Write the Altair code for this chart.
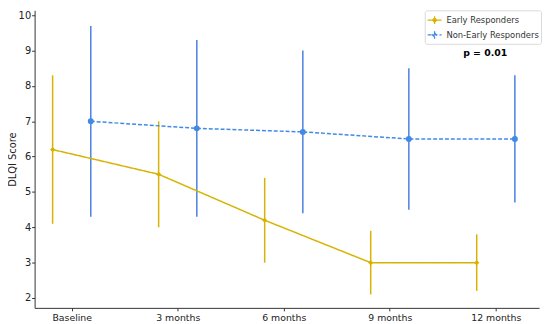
import altair as alt
import pandas as pd

timepoints = ["Baseline", "3 months", "6 months", "9 months", "12 months"]
groups = ["Early Responders", "Non-Early Responders"]
early_mean = [6.2, 5.5, 4.2, 3.0, 3.0]
early_low = [4.1, 4.0, 3.0, 2.1, 2.2]
early_high = [8.3, 7.0, 5.4, 3.9, 3.8]
non_mean = [7.0, 6.8, 6.7, 6.5, 6.5]
non_low = [4.3, 4.3, 4.4, 4.5, 4.7]
non_high = [9.7, 9.3, 9.0, 8.5, 8.3]
offsets = [-0.18, 0.18]
p_label = ["p = 0.01"]
p_x = [3.9]
p_y = [8.93]

gold = "#d8b200"
blue = "#3f8ae6"
blue_err = "#4a7fe0"

rows = []
for g, m, lo, hi, off in [(groups[0], early_mean, early_low, early_high, offsets[0]),
                          (groups[1], non_mean, non_low, non_high, offsets[1])]:
    for i, t in enumerate(timepoints):
        rows.append({"group": g, "time": t, "x": i + off, "mean": m[i], "low": lo[i], "high": hi[i]})
df = pd.DataFrame(rows)

label_expr = "[" + ",".join(f"'{t}'" for t in timepoints) + "][datum.value]"

xscale = alt.Scale(domain=[-0.35, 4.408], nice=False, zero=False)
yscale = alt.Scale(domain=[1.72, 10.14], nice=False, zero=False)
color_scale = alt.Scale(domain=groups, range=[gold, blue])

x_axis = alt.Axis(values=[0, 1, 2, 3, 4], labelExpr=label_expr, title=None,
                  grid=False, tickSize=3, labelPadding=2, labelFontSize=9.5)
y_axis = alt.Axis(values=[2, 3, 4, 5, 6, 7, 8, 9, 10], title="DLQI Score", grid=False,
                  tickSize=3, labelPadding=1, titlePadding=1, labelOverlap=False,
                  labelFontSize=10, titleFontSize=10)


def X(field):
    return alt.X(field, scale=xscale, axis=x_axis)


def Y(field):
    return alt.Y(field, scale=yscale, axis=y_axis)


legend_symbol = "M-1,0H1M0,-0.3L0.3,0L0,0.3L-0.3,0ZM0,-0.55V0.55"

lines = alt.Chart(df).mark_line(strokeWidth=1.5).encode(
    x=X("x:Q"), y=Y("mean:Q"),
    color=alt.Color("group:N", scale=color_scale, title=None,
                    legend=alt.Legend(orient="none", legendX=396, legendY=0,
                                      fillColor="white", strokeColor="#d9d9d9",
                                      padding=2, cornerRadius=2, labelFontSize=8.5,
                                      symbolType=legend_symbol, symbolSize=200,
                                      symbolStrokeWidth=1.3, rowPadding=0,
                                      labelColor="#333", labelOffset=4)),
    strokeDash=alt.StrokeDash("group:N", scale=alt.Scale(domain=groups, range=[[1, 0], [4, 2]]),
                              title=None, legend=None),
)

err_early = alt.Chart(df[df.group == groups[0]]).mark_rule(strokeWidth=1.5, color=gold).encode(
    x=X("x:Q"), y=Y("low:Q"), y2="high:Q")
err_non = alt.Chart(df[df.group == groups[1]]).mark_rule(strokeWidth=1.5, color=blue_err).encode(
    x=X("x:Q"), y=Y("low:Q"), y2="high:Q")

pts_early = alt.Chart(df[df.group == groups[0]]).mark_point(
    shape="diamond", filled=True, size=28, color=gold, opacity=1).encode(x=X("x:Q"), y=Y("mean:Q"))
pts_non = alt.Chart(df[df.group == groups[1]]).mark_point(
    shape="circle", filled=True, size=36, color=blue, opacity=1).encode(x=X("x:Q"), y=Y("mean:Q"))

ptxt = alt.Chart(pd.DataFrame({"label": p_label, "x": p_x, "y": p_y})).mark_text(
    fontWeight="bold", fontSize=9.5, color="black").encode(x=X("x:Q"), y=Y("y:Q"), text="label:N")

chart = alt.layer(err_early, err_non, lines, pts_early, pts_non, ptxt).properties(
    width=512, height=302,
    autosize=alt.AutoSizeParams(type="none"),
    padding={"left": 27, "top": 0, "right": 3, "bottom": 14},
).configure_view(stroke=None).configure_axis(
    domainColor="#333", tickColor="#333", labelColor="#222", titleColor="#222",
    labelFont="DejaVu Sans", titleFont="DejaVu Sans",
    titleFontWeight="normal", domainWidth=1,
).configure_legend(labelFont="DejaVu Sans").configure_text(font="DejaVu Sans")

chart.save("out.html", embed_options={"renderer": "svg", "actions": False})
